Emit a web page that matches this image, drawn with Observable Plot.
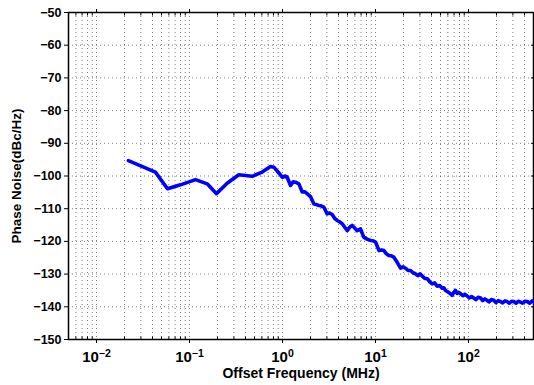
<!DOCTYPE html>
<html>
<head>
<meta charset="utf-8">
<script src="https://cdn.jsdelivr.net/npm/d3@7"></script>
<script src="https://cdn.jsdelivr.net/npm/@observablehq/plot@0.6"></script>
<style>
  html, body { margin: 0; padding: 0; background: #fff; }
  #chart { width: 534px; height: 385px; }
</style>
</head>
<body>
<div id="chart"></div>
<script>
// Offset frequency (MHz) and phase noise (dBc/Hz)
const freq = [0.022, 0.043, 0.058, 0.080, 0.116, 0.155, 0.195, 0.254, 0.339, 0.472, 0.605, 0.743, 0.806, 0.91,
  1.0, 1.06, 1.12, 1.22, 1.30, 1.38, 1.50, 1.63, 1.73, 1.84, 2.0, 2.17, 2.3, 2.45, 2.6, 2.78, 3.02, 3.2, 3.42,
  3.65, 3.87, 4.1, 4.39, 4.65, 4.97, 5.3, 5.61, 6.0, 6.35, 6.9, 7.48, 8.1, 8.83, 9.4,
  10.0, 10.9, 11.6, 12.3, 13.1, 13.9, 14.8, 15.7, 17.1, 18.6, 19.8, 21.0, 22.4, 23.8, 25.3, 26.9, 28.5, 30.1,
  31.8, 33.9, 36.0, 38.3, 40.7, 43.2, 46.0, 49.0, 52.1, 54.3, 56.6, 59.8, 63.2, 66.8, 69.5, 72.4, 75.5, 78.7,
  82.0, 86.8, 91.7, 96.8, 102, 108, 114, 120, 127, 135, 142, 150, 158, 166, 176, 187, 197, 209, 221, 233, 247,
  261, 275, 291, 307, 325, 343, 362, 382, 405, 428, 455, 484, 500];
const phaseNoise = [-95.3, -98.8, -103.9, -102.7, -101.1, -102.4, -105.4, -102.2, -99.6, -100.1, -98.8, -97.1, -97.3, -99.0,
  -100.4, -100.0, -100.3, -102.9, -101.8, -101.9, -102.4, -104.9, -104.8, -105.4, -106.3, -108.5, -108.7, -109.0, -109.1, -109.5, -111.6, -111.3, -111.8,
  -113.0, -113.6, -114.0, -114.6, -115.6, -116.7, -115.6, -115.1, -116.0, -116.7, -116.2, -118.7, -119.3, -119.7, -119.8,
  -120.2, -122.8, -122.6, -122.8, -123.8, -124.3, -124.4, -124.8, -126.4, -128.2, -127.8, -128.2, -128.9, -128.9, -129.6, -129.9, -130.5, -129.9,
  -130.6, -131.3, -131.4, -132.4, -133.0, -132.7, -133.7, -133.5, -134.3, -134.2, -135.0, -135.4, -135.9, -136.5, -135.6, -135.0, -135.9, -135.6,
  -136.0, -136.6, -136.2, -136.7, -137.3, -136.9, -137.3, -137.8, -137.1, -137.3, -138.1, -137.6, -138.0, -138.5, -137.8, -138.0, -138.7, -138.1, -138.4, -138.8, -138.2,
  -138.4, -138.9, -138.3, -138.4, -138.9, -138.3, -138.6, -138.9, -138.3, -138.4, -138.9, -138.2, -138.5];

const xMajorTicks = [0.01, 0.1, 1, 10, 100];
const xMajorLabels = ["10^-2", "10^-1", "10^0", "10^1", "10^2"];
const xMinorTicks = [0.005, 0.006, 0.007, 0.008, 0.009,
  0.02, 0.03, 0.04, 0.05, 0.06, 0.07, 0.08, 0.09,
  0.2, 0.3, 0.4, 0.5, 0.6, 0.7, 0.8, 0.9,
  2, 3, 4, 5, 6, 7, 8, 9,
  20, 30, 40, 50, 60, 70, 80, 90,
  200, 300, 400, 500];
const xGridLines = [...xMinorTicks, ...xMajorTicks];
const yTicks = [-150, -140, -130, -120, -110, -100, -90, -80, -70, -60, -50];
const yGridLines = [-140, -130, -120, -110, -100, -90, -80, -70, -60];

const data = freq.map((f, i) => ({f, pn: phaseNoise[i]}));
const labelFor = d => xMajorLabels[xMajorTicks.indexOf(d)] ?? "";
const gridStyle = {stroke: "#000", strokeOpacity: 0.5, strokeWidth: 1, strokeDasharray: "1,3"};

const chart = Plot.plot({
  width: 534,
  height: 385,
  marginLeft: 68,
  marginRight: 1,
  marginTop: 12,
  marginBottom: 46,
  style: {fontFamily: "'Liberation Sans', Arial, Helvetica, sans-serif", fontWeight: "bold", fontSize: "12px", color: "#000", background: "#fff"},
  x: {type: "log", domain: [0.005, 500]},
  y: {domain: [-150, -50]},
  marks: [
    Plot.ruleX(xGridLines, gridStyle),
    Plot.ruleY(yGridLines, gridStyle),
    Plot.axisX({ticks: xMajorTicks, tickSize: 4, tickPadding: 8, tickFormat: labelFor,
      label: "Offset Frequency (MHz)", labelAnchor: "center", labelArrow: "none", labelOffset: 38}),
    Plot.axisX({ticks: xMinorTicks, tickSize: -2.5, tickFormat: () => "", label: null}),
    Plot.axisX({anchor: "top", ticks: xMajorTicks, tickSize: 4, tickFormat: () => "", label: null}),
    Plot.axisX({anchor: "top", ticks: xMinorTicks, tickSize: -2.5, tickFormat: () => "", label: null}),
    Plot.axisY({ticks: yTicks, tickSize: 4, tickPadding: 3, tickFormat: d => "\u2212" + Math.abs(d),
      label: "Phase Noise(dBc/Hz)", labelAnchor: "center", labelArrow: "none", labelOffset: 57}),
    Plot.axisY({anchor: "right", ticks: yTicks, tickSize: -3, tickFormat: () => "", label: null}),
    Plot.frame({stroke: "#000", strokeWidth: 1.5}),
    Plot.line(data, {x: "f", y: "pn", stroke: "#0000ff", strokeWidth: 3.6, strokeLinejoin: "round", strokeLinecap: "round"})
  ]
});

// Render exponent labels as superscripts
d3.select(chart).selectAll('g[aria-label="x-axis tick label"] text').each(function() {
  const t = d3.select(this);
  const s = t.text();
  if (s.includes("^")) {
    const [base, exp] = s.split("^");
    t.text("");
    t.attr("font-size", 15).style("font-size", "15px");
    t.append("tspan").attr("font-size", 15).style("font-size", "15px").text(base);
    t.append("tspan").attr("dy", "-0.5em").attr("font-size", 10.5).style("font-size", "10.5px").text(exp.replace("-", "\u2212"));
  }
});
d3.select(chart).selectAll('g[aria-label="y-axis tick label"] text').attr("font-size", 12.5).style("font-size", "12.5px");
// Axis titles
d3.select(chart).selectAll('g[aria-label="x-axis label"] text').style("font-size", "14px");
d3.select(chart).selectAll('g[aria-label="y-axis label"] text').style("font-size", "13.5px");

document.getElementById("chart").appendChild(chart);
</script>
</body>
</html>
